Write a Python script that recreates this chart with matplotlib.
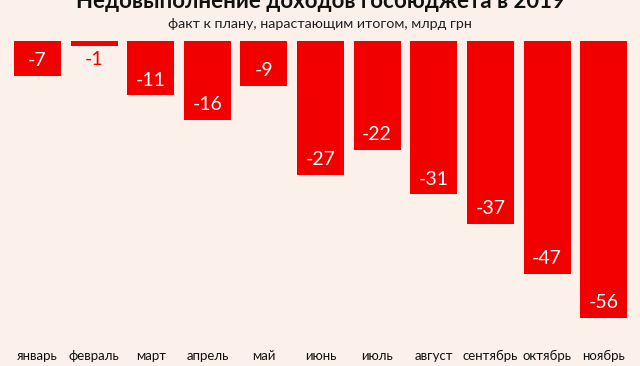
import matplotlib
matplotlib.use("Agg")
import matplotlib.pyplot as plt

months = ["январь", "февраль", "март", "апрель", "май", "июнь",
          "июль", "август", "сентябрь", "октябрь", "ноябрь"]
values = [-7, -1, -11, -16, -9, -27, -22, -31, -37, -47, -56]

BG = "#fcf1ea"
RED = "#f20000"

plt.rcParams["font.family"] = ["Lato", "DejaVu Sans"]

fig = plt.figure(figsize=(6.4, 3.66), dpi=100, facecolor=BG)
ax = fig.add_axes([0.0144, 0.131, 0.973, 0.757])
ax.set_facecolor(BG)

x = range(len(values))
ax.bar(x, values, width=0.83, color=RED)

# value labels: inside the bar near its end, or below it if the bar is too short
for i, v in zip(x, values):
    if v <= -5:
        ax.annotate(f"{v}", (i, v), xytext=(0, 11), textcoords="offset points",
                    ha="center", va="center", color="white", fontsize=14)
    else:
        ax.annotate(f"{v}", (i, v), xytext=(0, -10), textcoords="offset points",
                    ha="center", va="center", color=RED, fontsize=14)

ax.set_xlim(-0.5, len(values) - 0.5)
ax.set_ylim(-56, 0)
ax.axis("off")

for i, m in zip(x, months):
    ax.annotate(m, (i, -56), xytext=(0, -27), textcoords="offset points",
                ha="center", va="center", fontsize=9.5, color="#111111")

fig.text(0.5, 1 - 8 / 366, "Недовыполнение доходов госбюджета в 2019",
         ha="center", va="baseline", fontsize=16, fontweight="bold", color="#111111")
fig.text(0.5, 1 - 24 / 366, "факт к плану, нарастающим итогом, млрд грн",
         ha="center", va="center", fontsize=10.3, color="#222222")

fig.savefig("out.png", dpi=100, facecolor=BG)
